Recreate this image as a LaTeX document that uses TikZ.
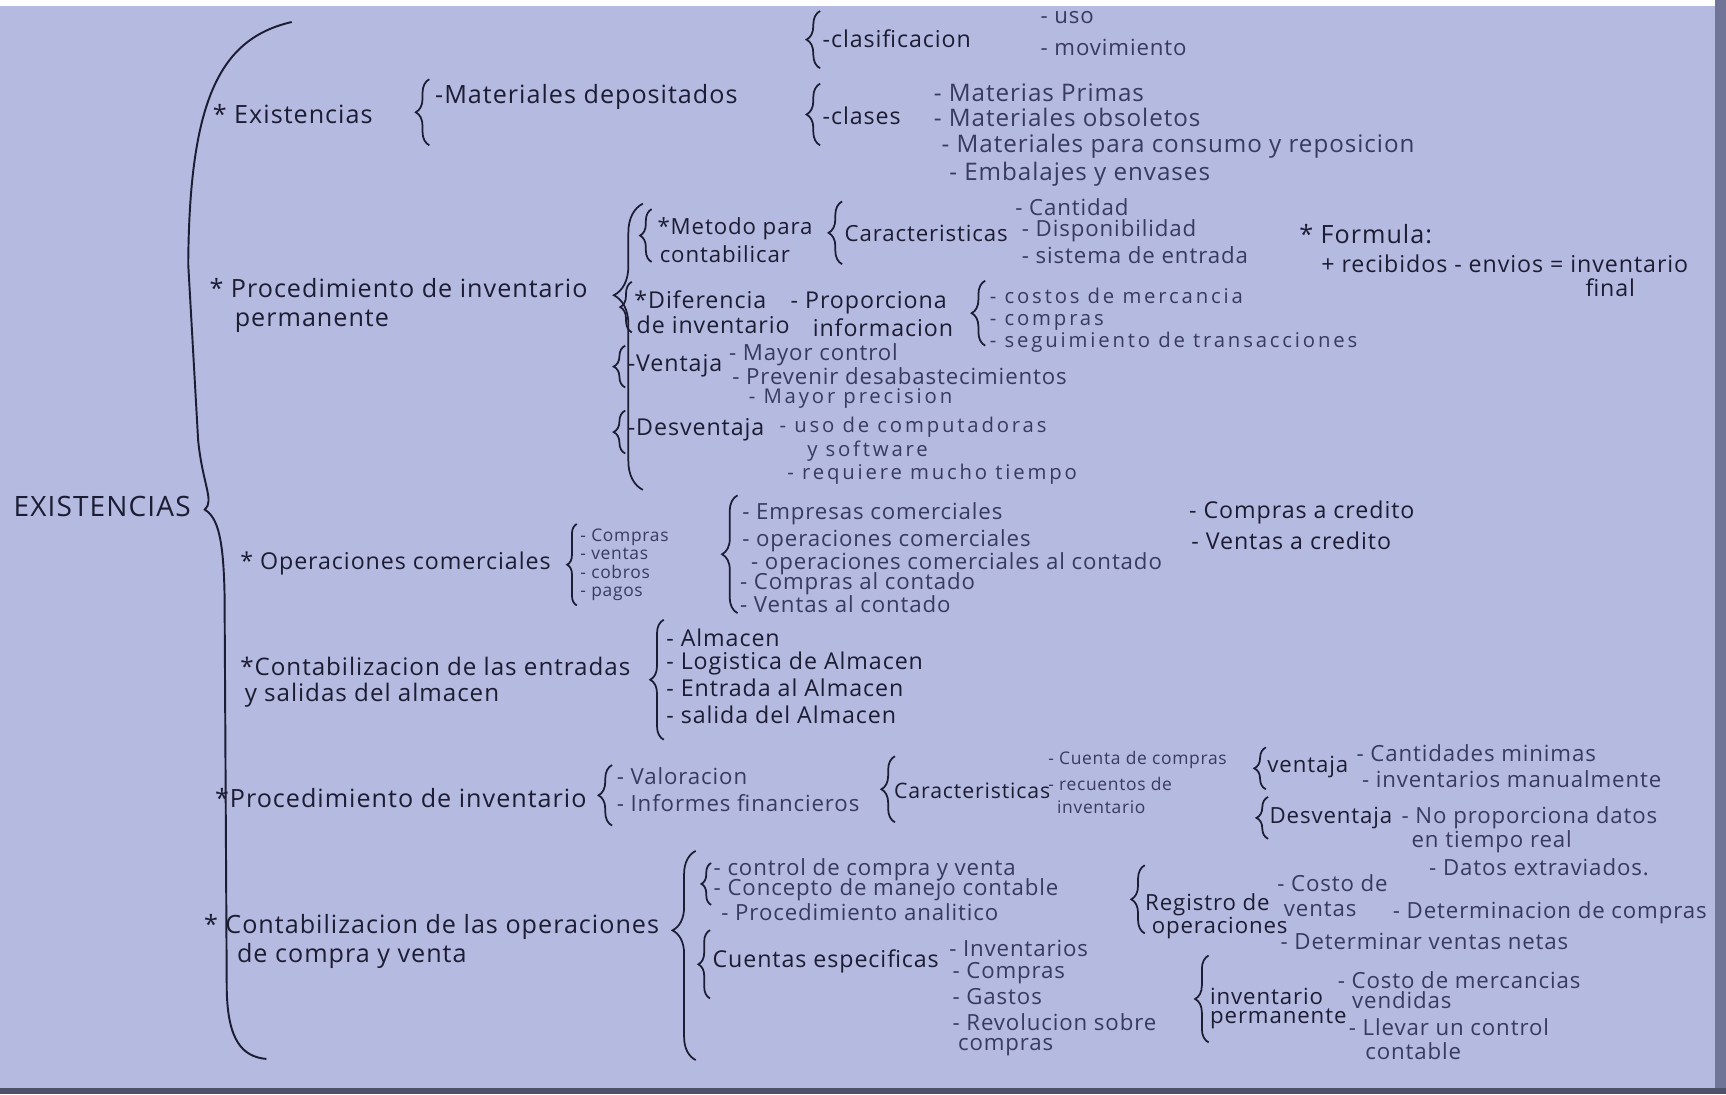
\documentclass[tikz,border=0pt]{standalone}
\usepackage{fontspec}
\setmainfont[LetterSpace=4]{Open Sans}
\usetikzlibrary{decorations.pathreplacing}
\definecolor{Papel}{RGB}{180,186,224}
\definecolor{PapelBorde}{RGB}{112,116,150}
\definecolor{Tinta}{RGB}{28,28,50}
\definecolor{TintaSuave}{RGB}{56,58,96}
\tikzset{
  titulo/.style={anchor=west, inner sep=0pt, text=Tinta, font=\fontsize{14.5}{17}\selectfont},
  rama/.style={anchor=west, inner sep=0pt, text=Tinta, font=\fontsize{13}{15}\selectfont},
  sub/.style={anchor=west, inner sep=0pt, text=Tinta, font=\fontsize{12}{14}\selectfont},
  subp/.style={anchor=west, inner sep=0pt, text=Tinta, font=\fontsize{11.5}{13}\selectfont},
  hoja/.style={anchor=west, inner sep=0pt, text=TintaSuave, font=\fontsize{11.5}{13}\selectfont},
  hojag/.style={anchor=west, inner sep=0pt, text=TintaSuave, font=\fontsize{12.5}{14}\selectfont},
  hojaa/.style={anchor=west, inner sep=0pt, text=TintaSuave,
                font=\fontsize{10.5}{12}\selectfont\addfontfeatures{LetterSpace=14}},
  hojap/.style={anchor=west, inner sep=0pt, text=TintaSuave, font=\fontsize{9}{10}\selectfont},
  llave/.style={decorate, decoration={brace, amplitude=#1}, draw=Tinta, line width=0.9pt},
  llave/.default=7pt,
}

\begin{document}
\begin{tikzpicture}[x=0.02cm, y=-0.02cm]
  % Llave abierta a la derecha: x, y arriba, y abajo, amplitud
  \newcommand{\llave}[4]{\draw[llave=#4] (#1,#3) -- (#1,#2);}

  % Papel
  \useasboundingbox (0,0) rectangle (1568,994);
  \fill[white] (0,0) rectangle (1568,994);
  \fill[Papel] (0,5) rectangle (1558,988);
  \fill[PapelBorde] (1558,0) rectangle (1568,994);
  \fill[PapelBorde!70!black] (0,988) rectangle (1568,994);

  % Raiz y llave principal
  \node[titulo] (raiz) at (12,460) {EXISTENCIAS};
  \draw[Tinta, line width=1pt] (265,20) .. controls (200,35) and (172,90) .. (171,240)
    -- (180,400) .. controls (184,440) and (195,455) .. (186,463)
    .. controls (198,470) and (203,490) .. (204,540) -- (206,900)
    .. controls (207,945) and (220,960) .. (242,962);

  % Existencias
  \node[rama] (exi) at (193,104) {* Existencias};
  \llave{390}{72}{132}{7pt}
  \node[rama] (exim) at (395,88) {-Materiales depositados};
  \llave{745}{10}{62}{7pt}
  \node[sub] (clf) at (747,35) {-clasificacion};
  \node[hoja] (uso) at (945,16) {- uso};
  \node[hoja] (mov) at (945,43) {- movimiento};
  \llave{745}{76}{132}{7pt}
  \node[sub] (cla) at (747,105) {-clases};
  \foreach \n/\px/\py/\t in {1/848/84/{- Materias Primas}, 2/848/107/{- Materiales obsoletos},
      3/855/133/{- Materiales para consumo y reposicion}, 4/862/158/{- Embalajes y envases}}
    \node[hojag] (clase\n) at (\px,\py) {\t};

  % Procedimiento de inventario permanente
  \node[rama] (pip) at (190,262) {* Procedimiento de inventario};
  \node[rama] (pip2) at (213,292) {permanente};
  \draw[llave=15pt, decoration={aspect=0.68}] (584,445) -- (584,185);
  \llave{592}{190}{238}{6pt}
  \node[subp] (met) at (597,208) {*Metodo para};
  \node[subp] (met2) at (599,231) {contabilicar};
  \llave{765}{183}{240}{7pt}
  \node[subp] (car) at (767,212) {Caracteristicas};
  \foreach \n/\px/\py/\t in {1/922/188/{- Cantidad}, 2/928/210/{- Disponibilidad},
      3/928/232/{- sistema de entrada}}
    \node[hoja] (carp\n) at (\px,\py) {\t};
  \node[rama] (for) at (1180,213) {* Formula:};
  \node[sub] (for2) at (1200,240) {+ recibidos - envios = inventario};
  \node[sub] (for3) at (1440,261) {final};
  \llave{574}{256}{302}{6pt}
  \node[sub] (dif) at (576,272) {*Diferencia};
  \node[sub] (dif2) at (578,295) {de inventario};
  \node[sub] (pro) at (718,275) {- Proporciona};
  \node[sub] (pro2) at (738,298) {informacion};
  \llave{895}{255}{314}{7pt}
  \node[hojaa, align=left, font=\fontsize{10.5}{11.2}\selectfont\addfontfeatures{LetterSpace=14}]
    (dinv) at (899,291) {- costos de mercancia\\- compras\\- seguimiento de transacciones};
  \llave{568}{314}{352}{6pt}
  \node[sub] (ven) at (570,332) {-Ventaja};
  \foreach \n/\px/\py/\t in {1/662/322/{- Mayor control}, 2/665/342/{- Prevenir desabastecimientos}}
    \node[hoja] (venp\n) at (\px,\py) {\t};
  \node[hojaa] (venp3) at (680,362) {- Mayor precision};
  \llave{568}{373}{412}{6pt}
  \node[sub] (des) at (570,390) {-Desventaja};
  \foreach \n/\px/\py/\t in {1/708/388/{- uso de computadoras}, 2/733/410/{y software},
      3/715/431/{- requiere mucho tiempo}}
    \node[hojaa] (desp\n) at (\px,\py) {\t};

  % Operaciones comerciales
  \node[sub] (opc) at (218,512) {* Operaciones comerciales};
  \llave{524}{476}{550}{5pt}
  \node[hojap, align=left, font=\fontsize{9}{9.6}\selectfont] (opcp) at (527,513)
    {- Compras\\- ventas\\- cobros\\- pagos};
  \llave{670}{450}{557}{8pt}
  \foreach \n/\px/\py/\t in {1/674/467/{- Empresas comerciales}, 2/674/491/{- operaciones comerciales},
      3/682/512/{- operaciones comerciales al contado}, 4/672/530/{- Compras al contado},
      5/672/549/{- Ventas al contado}}
    \node[hoja] (emp\n) at (\px,\py) {\t};
  \node[sub] (cre1) at (1080,466) {- Compras a credito};
  \node[sub] (cre2) at (1082,491) {- Ventas a credito};

  % Entradas y salidas del almacen
  \node[rama, font=\fontsize{12.5}{15}\selectfont] (ces) at (218,605) {*Contabilizacion de las entradas};
  \node[rama, font=\fontsize{12.5}{15}\selectfont] (ces2) at (222,632) {y salidas del almacen};
  \llave{603}{563}{672}{7pt}
  \foreach \n/\px/\py/\t in {1/605/579/{- Almacen}, 2/605/603/{- Logistica de Almacen},
      3/605/625/{- Entrada al Almacen}, 4/605/649/{- salida del Almacen}}
    \node[sub] (alm\n) at (\px,\py) {\t};

  % Procedimiento de inventario
  \node[rama] (pin) at (195,725) {*Procedimiento de inventario};
  \llave{556}{695}{750}{7pt}
  \node[hoja] (val) at (560,705) {- Valoracion};
  \node[hoja] (inf) at (560,730) {- Informes financieros};
  \llave{813}{687}{747}{7pt}
  \node[subp, font=\fontsize{11}{13}\selectfont] (car2) at (812,718) {Caracteristicas};
  \foreach \n/\px/\py/\t in {1/952/690/{- Cuenta de compras}, 2/952/712/{- recuentos de},
      3/960/733/{inventario}}
    \node[hojap] (carq\n) at (\px,\py) {\t};
  \llave{1150}{679}{717}{6pt}
  \node[subp] (vt2) at (1151,697) {ventaja};
  \node[hoja] (vtq1) at (1232,684) {- Cantidades minimas};
  \node[hoja] (vtq2) at (1237,708) {- inventarios manualmente};
  \llave{1152}{724}{762}{6pt}
  \node[subp] (dv2) at (1153,743) {Desventaja};
  \foreach \n/\px/\py/\t in {1/1273/743/{- No proporciona datos}, 2/1282/765/{en tiempo real},
      3/1298/788/{- Datos extraviados.}}
    \node[hoja] (dvq\n) at (\px,\py) {\t};

  % Operaciones de compra y venta
  \node[rama] (cov) at (185,842) {* Contabilizacion de las operaciones};
  \node[rama] (cov2) at (215,868) {de compra y venta};
  \draw[llave=12pt, decoration={aspect=0.62}] (632,963) -- (632,773);
  \llave{646}{784}{822}{5pt}
  \foreach \n/\px/\py/\t in {1/648/790/{- control de compra y venta}, 2/648/808/{- Concepto de manejo contable},
      3/655/829/{- Procedimiento analitico}}
    \node[hoja] (ctl\n) at (\px,\py) {\t};
  \llave{645}{845}{907}{6pt}
  \node[sub] (cue) at (647,873) {Cuentas especificas};
  \foreach \n/\px/\py/\t in {1/862/862/{- Inventarios}, 2/865/884/{- Compras}, 3/865/905/{- Gastos},
      4/865/929/{- Revolucion sobre}, 5/870/951/{compras}}
    \node[hoja] (cuep\n) at (\px,\py) {\t};
  \llave{1040}{786}{848}{7pt}
  \node[subp] (reg) at (1040,822) {Registro de};
  \node[subp] (reg2) at (1046,843) {operaciones};
  \foreach \n/\px/\py/\t in {1/1160/802/{- Costo de}, 2/1166/826/{ventas},
      3/1265/829/{- Determinacion de compras}, 4/1163/855/{- Determinar ventas netas}}
    \node[hoja] (regp\n) at (\px,\py) {\t};
  \llave{1098}{868}{947}{7pt}
  \node[subp] (ipe) at (1099,905) {inventario};
  \node[subp] (ipe2) at (1099,926) {permanente};
  \foreach \n/\px/\py/\t in {1/1215/890/{- Costo de mercancias}, 2/1228/909/{vendidas},
      3/1225/933/{- Llevar un control}, 4/1240/955/{contable}}
    \node[hoja] (ipep\n) at (\px,\py) {\t};
\end{tikzpicture}
\end{document}
